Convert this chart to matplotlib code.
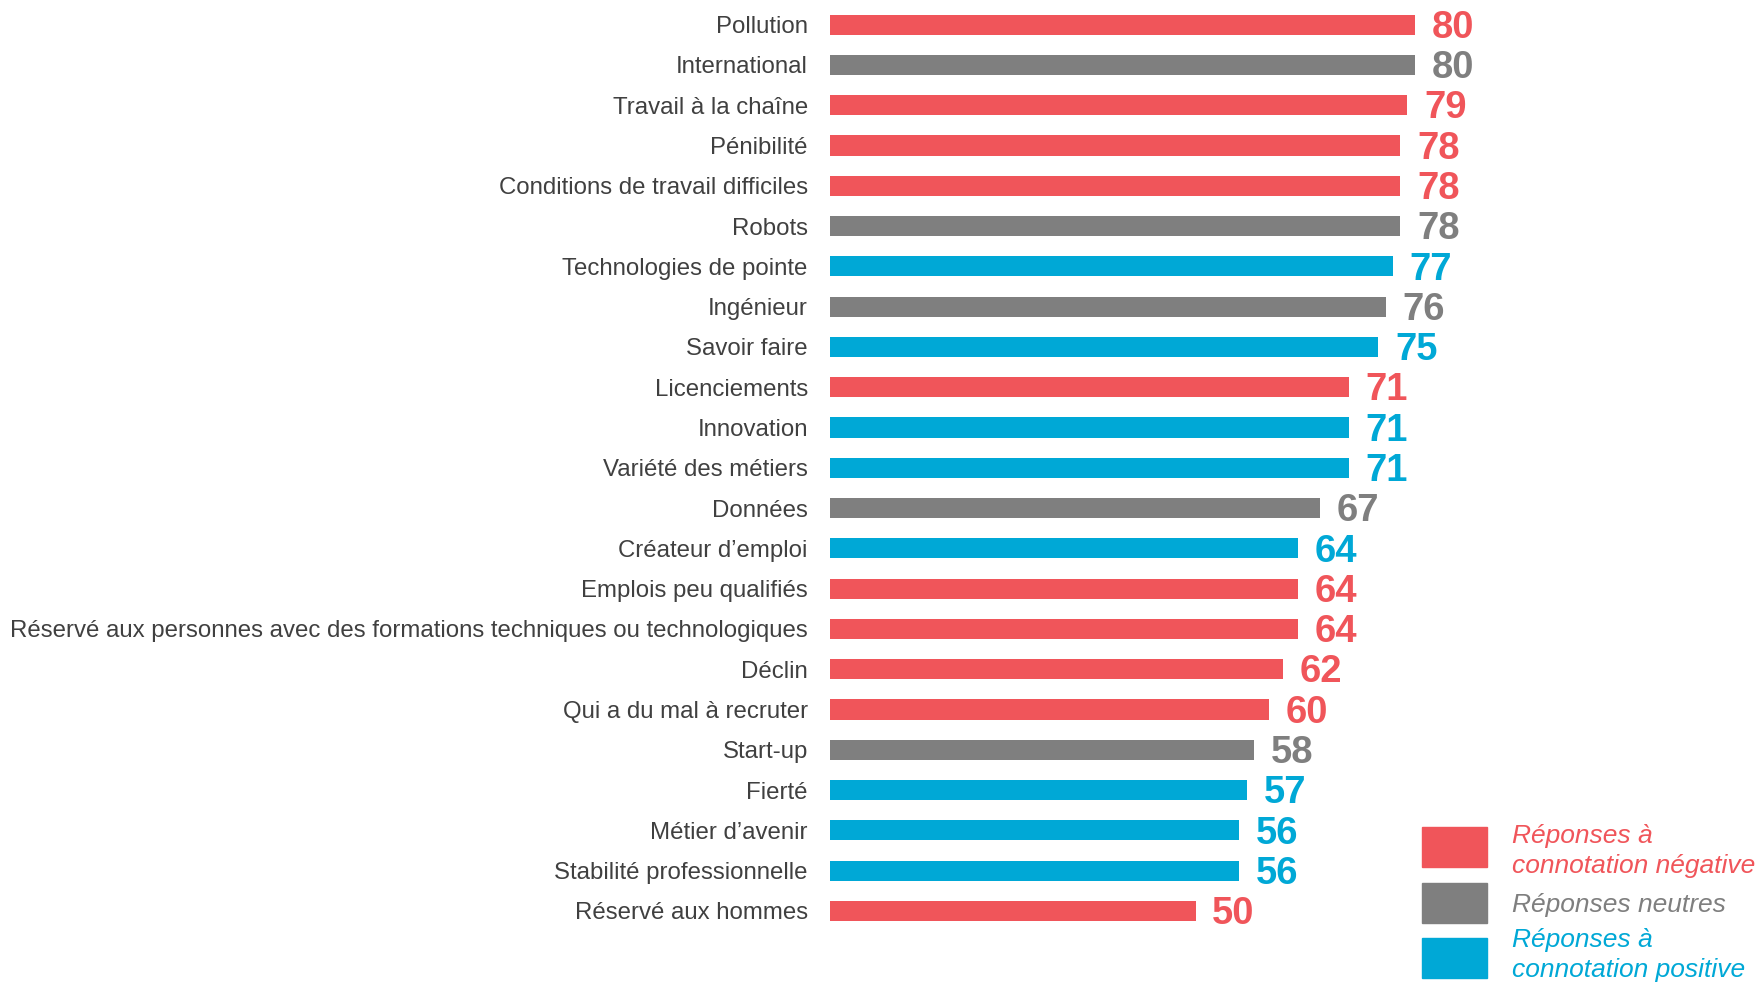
import matplotlib.pyplot as plt
from matplotlib.patches import Rectangle

# mots associés à l'industrie, du haut vers le bas
categories = [
    "Pollution", "International", "Travail à la chaîne", "Pénibilité",
    "Conditions de travail difficiles", "Robots", "Technologies de pointe",
    "Ingénieur", "Savoir faire", "Licenciements", "Innovation",
    "Variété des métiers", "Données", "Créateur d’emploi",
    "Emplois peu qualifiés",
    "Réservé aux personnes avec des formations techniques ou technologiques",
    "Déclin", "Qui a du mal à recruter", "Start-up", "Fierté",
    "Métier d’avenir", "Stabilité professionnelle", "Réservé aux hommes",
]
valeurs = [80, 80, 79, 78, 78, 78, 77, 76, 75, 71, 71, 71, 67, 64, 64, 64,
           62, 60, 58, 57, 56, 56, 50]
# n = négative, g = neutre, p = positive
connotation = ["n", "g", "n", "n", "n", "g", "p", "g", "p", "n", "p", "p",
               "g", "p", "n", "n", "n", "n", "g", "p", "p", "p", "n"]
legende = ["Réponses à\nconnotation négative", "Réponses neutres",
           "Réponses à\nconnotation positive"]

couleurs = {"n": "#F0555A", "g": "#7F7F7F", "p": "#00A8D6"}

fig = plt.figure(figsize=(17.59, 9.83), dpi=100)
ax = fig.add_axes([830 / 1759, 1 - 931 / 983, 731 / 1759, (931 - 4.5) / 983])

y = list(range(len(categories)))
cols = [couleurs[c] for c in connotation]
ax.barh(y, valeurs, height=0.5, color=cols)

for yi, v, c in zip(y, valeurs, cols):
    ax.text(v + 2.3, yi + 0.08, str(v), va="center", ha="left", color=c,
            fontsize=27.5, fontweight="bold",
            family=["Liberation Sans Narrow", "Liberation Sans"])

ax.set_xlim(0, 100)
ax.set_ylim(len(categories) - 0.5, -0.5)
ax.set_yticks(y)
ax.set_yticklabels(categories, fontsize=17.3, color="#404040",
                   family="Liberation Sans")
ax.tick_params(axis="y", length=0, pad=16)
ax.set_xticks([])
for s in ax.spines.values():
    s.set_visible(False)

# légende dessinée à la main
carres_y = [827, 883, 938]
textes_y = [824, 893, 928]
for cle, lab, cy, ty in zip(["n", "g", "p"], legende, carres_y, textes_y):
    fig.add_artist(Rectangle((1422 / 1759, 1 - (cy + 40) / 983), 65 / 1759,
                             40 / 983, transform=fig.transFigure,
                             color=couleurs[cle]))
    fig.text(1512 / 1759, 1 - ty / 983, lab, color=couleurs[cle],
             fontsize=19, style="italic", family="Liberation Sans",
             va="top", ha="left", linespacing=1.33)

fig.savefig("out.png", dpi=100)
